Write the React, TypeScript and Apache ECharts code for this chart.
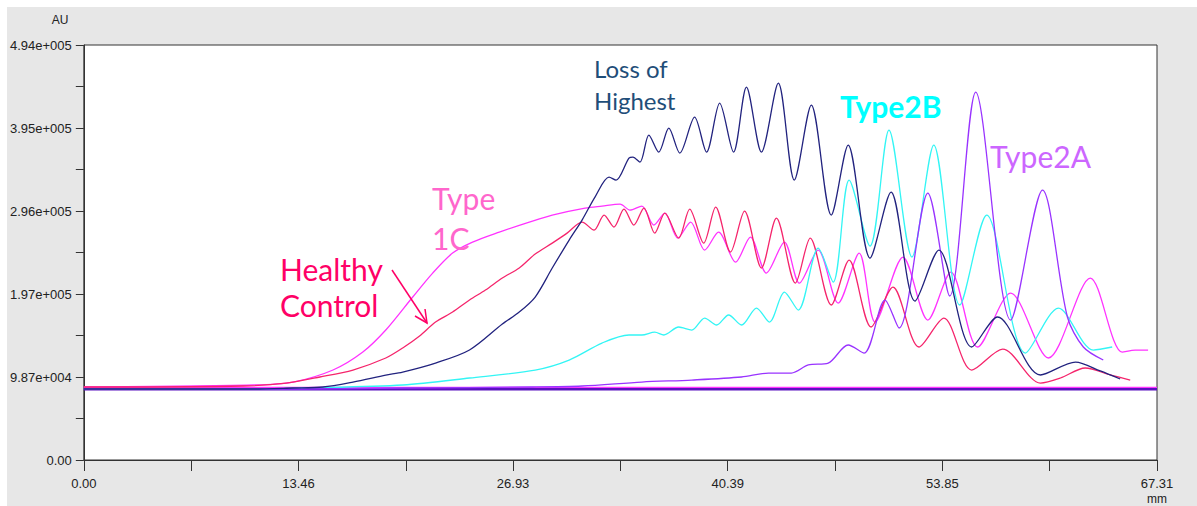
import React, { useEffect, useRef } from "react";
import * as echarts from "echarts";

const xTickLabels = ["0.00", "13.46", "26.93", "40.39", "53.85", "67.31"];
const yTickLabels = ["0.00", "9.87e+004", "1.97e+005", "2.96e+005", "3.95e+005", "4.94e+005"];
const X_MAX = 67.31;
const X_STEP = 13.462;
const Y_MAX = 494000;
const Y_STEP = 98800;

const baselineUpper = 86200;
const baselineLower = 84200;

const lossOfHighest = [
  [0, 84500], [10.63, 84500], [13.13, 85700], [15, 86900], [16.88, 92800], [18.94, 101000],
  [20, 104700], [22.06, 115400], [24.19, 130900], [26.25, 161800], [27.31, 176100],
  [28.31, 194000], [29.38, 228500], [30.44, 261800], [31.25, 285600], [32.06, 313000],
  [32.94, 336800], [33.38, 333200], [34.19, 359400], [34.44, 360600], [34.88, 354600],
  [35.44, 386800], [36.06, 366500], [36.69, 395100], [37.38, 365300], [38.31, 408200],
  [39.06, 366500], [39.88, 424800], [40.75, 366500], [41.56, 443900], [42.5, 366500],
  [43.56, 448600], [44.56, 333200], [45.63, 422500], [46.88, 291600], [47.94, 374900],
  [49.31, 240400], [50.63, 318900], [52.13, 189200], [53.63, 249900], [55.69, 134500],
  [57.31, 170200], [60, 101200], [62.2, 116600], [63.75, 106000], [65, 96400],
];

const healthyControl = [
  [0, 86900], [10, 88100], [12.69, 91600], [14.81, 98800], [16.88, 107100], [18.94, 121400],
  [20, 133300], [21.06, 147600], [22.06, 164200], [23.13, 176100], [24.19, 190400],
  [25.19, 202300], [26.25, 216600], [27.31, 228500], [28.31, 245100], [29.38, 258200],
  [30.31, 270100], [31.25, 283200],
  [32, 273700], [32.63, 291600], [33.25, 277300], [33.88, 298700], [34.5, 279700],
  [35.13, 299900], [35.81, 270100], [36.44, 293900], [37.31, 264200], [38, 298700],
  [38.88, 258200], [39.63, 301100], [40.56, 247500], [41.44, 296300], [42.5, 228500],
  [43.44, 288000], [44.63, 210600], [45.56, 264200], [46.88, 184500], [48, 238000],
  [49.38, 158300], [50.75, 205900], [52.38, 134500], [53.94, 169000], [55.69, 107100],
  [57.63, 132100], [60, 91600], [61.25, 97600], [62.81, 109500], [64.38, 101200], [65.63, 95200],
];

const type1C = [
  [0, 86900], [10.63, 89300], [13.13, 92800], [15.63, 107100], [17.5, 128500], [18.94, 154700],
  [20.63, 194000], [21.88, 222500], [23.13, 246300], [24.38, 259400], [26.06, 271300],
  [27.94, 283200], [29.38, 291600], [31.44, 299900], [32.5, 302300], [33.63, 304600],
  [34.25, 297500], [35, 302300], [35.75, 279700], [36.44, 293900], [37.25, 264200],
  [38.06, 283200], [38.94, 249900], [39.81, 271300], [40.88, 235600], [41.81, 265400],
  [42.81, 222500], [43.94, 259400], [44.88, 210600], [46.06, 249900], [47.31, 186800],
  [48.63, 246300], [49.63, 164200], [51.38, 241600], [52.94, 166600], [54.38, 223700],
  [56.06, 134500], [58.13, 198700], [60.5, 121400], [63.13, 216600], [65.13, 128500],
  [65.94, 130900], [66.75, 130900],
];

const type2B = [
  [0, 84500], [10.63, 84500], [13.75, 85700], [20, 89300], [24.19, 97600], [28.31, 107100],
  [30.44, 119000], [32.5, 139200], [34.19, 148800], [35, 148800], [35.81, 152300],
  [36.38, 148800], [37.31, 158300], [38.13, 154700], [38.94, 169000], [39.69, 160700],
  [40.44, 172600], [41.25, 160700], [42.19, 180900], [43, 164200], [43.94, 199900],
  [44.81, 178500], [46.06, 252300], [47, 211800], [48, 333200], [49.31, 254700],
  [50.5, 392700], [51.94, 241600], [53.31, 374900], [54.94, 184500], [56.63, 291600],
  [59.06, 127300], [61.13, 180900], [63.31, 130900], [64.5, 134500],
];

const type2A = [
  [0, 84500], [13.75, 84500], [20, 85700], [28.13, 86900], [31.25, 88100], [35, 92800],
  [38.13, 95200], [41.25, 98800], [42.94, 103500], [44.38, 103500], [45.44, 113100],
  [46.69, 115400], [47.94, 136900], [48.94, 127300], [50.25, 190400], [51.13, 157100],
  [52.94, 317700], [54.31, 195200], [55.94, 437900], [58.13, 166600], [60.13, 321300],
  [61.69, 170200], [62.69, 134500], [63.94, 119000],
];

const lineSeries = (name: string, data: number[][], color: string) => ({
  name,
  type: "line",
  data,
  showSymbol: false,
  smooth: 0.3,
  lineStyle: { color, width: 1.3 },
  z: 3,
});

export default function App() {
  const ref = useRef<HTMLDivElement>(null);
  useEffect(() => {
    if (!ref.current) return;
    const chart = echarts.init(ref.current, null, { renderer: "svg" });
    const txt = (
      text: string,
      x: number,
      y: number,
      color: string,
      size: number,
      lineHeight: number,
      weight = "normal",
      family = "Lato",
      align = "left"
    ) => ({
      type: "text",
      x,
      y,
      z: 10,
      style: {
        text,
        fill: color,
        fontSize: size,
        fontFamily: family,
        fontWeight: weight,
        lineHeight,
        align,
        verticalAlign: "middle",
      },
    });
    chart.setOption({
      animation: false,
      backgroundColor: "#e7e7e7",
      grid: {
        left: 73,
        top: 38,
        width: 1077,
        height: 415,
        show: true,
        backgroundColor: "#ffffff",
        borderColor: "#333333",
        borderWidth: 1,
      },
      xAxis: {
        type: "value",
        min: 0,
        max: X_MAX,
        interval: X_STEP,
        axisLine: { show: true, lineStyle: { color: "#333333", width: 1 } },
        axisTick: { show: true, length: 11, lineStyle: { color: "#333333" } },
        minorTick: { show: true, splitNumber: 2, length: 11, lineStyle: { color: "#333333" } },
        splitLine: { show: false },
        axisLabel: {
          color: "#222222",
          fontSize: 13,
          fontFamily: "Liberation Sans",
          margin: 17,
          formatter: (v: number) => xTickLabels[Math.round(v / X_STEP)] ?? "",
        },
      },
      yAxis: {
        type: "value",
        min: 0,
        max: Y_MAX,
        interval: Y_STEP,
        axisLine: { show: true, lineStyle: { color: "#333333", width: 1 } },
        axisTick: { show: true, length: 8, lineStyle: { color: "#333333" } },
        minorTick: { show: true, splitNumber: 2, length: 8, lineStyle: { color: "#333333" } },
        splitLine: { show: false },
        axisLabel: {
          color: "#222222",
          fontSize: 13,
          fontFamily: "Liberation Sans",
          margin: 12,
          formatter: (v: number) => yTickLabels[Math.round(v / Y_STEP)] ?? "",
        },
      },
      series: [
        {
          name: "baseline-upper",
          type: "line",
          data: [[0, baselineUpper], [X_MAX, baselineUpper]],
          showSymbol: false,
          lineStyle: { color: "#ff33ff", width: 1.5 },
          z: 2,
        },
        {
          name: "baseline-lower",
          type: "line",
          data: [[0, baselineLower], [X_MAX, baselineLower]],
          showSymbol: false,
          lineStyle: { color: "#5a12c0", width: 2.5 },
          z: 2,
        },
        lineSeries("Type 1C", type1C, "#ff33ff"),
        lineSeries("Healthy Control", healthyControl, "#f5256c"),
        lineSeries("Type2B", type2B, "#33f5f5"),
        lineSeries("Type2A", type2A, "#9933ff"),
        lineSeries("Loss of Highest", lossOfHighest, "#22237f"),
      ],
      graphic: [
        txt("AU", 53, 13, "#222222", 12, 14, "normal", "Liberation Sans", "center"),
        txt("mm", 1150, 492, "#222222", 12, 14, "normal", "Liberation Sans", "center"),
        txt("Loss of\nHighest", 587, 77, "#1f4e79", 24, 32),
        txt("Type2B", 833, 99, "#00ffff", 30, 34, "bold"),
        txt("Type2A", 983, 149, "#cc66ff", 30, 34),
        txt("Type\n1C", 425, 211, "#ff66cc", 30, 40),
        txt("Healthy\nControl", 273, 280, "#ff0066", 30, 36),
        {
          type: "line",
          z: 10,
          shape: { x1: 385, y1: 263, x2: 420, y2: 316 },
          style: { stroke: "#ff0066", lineWidth: 1.5 },
        },
        {
          type: "polyline",
          z: 10,
          shape: { points: [[408, 309], [420, 316], [418, 302]] },
          style: { stroke: "#ff0066", lineWidth: 1.5, fill: "none" },
        },
      ],
    });
    return () => chart.dispose();
  }, []);
  return (
    <div
      ref={ref}
      style={{ position: "absolute", left: 7, top: 7, width: 1190, height: 499 }}
    />
  );
}
